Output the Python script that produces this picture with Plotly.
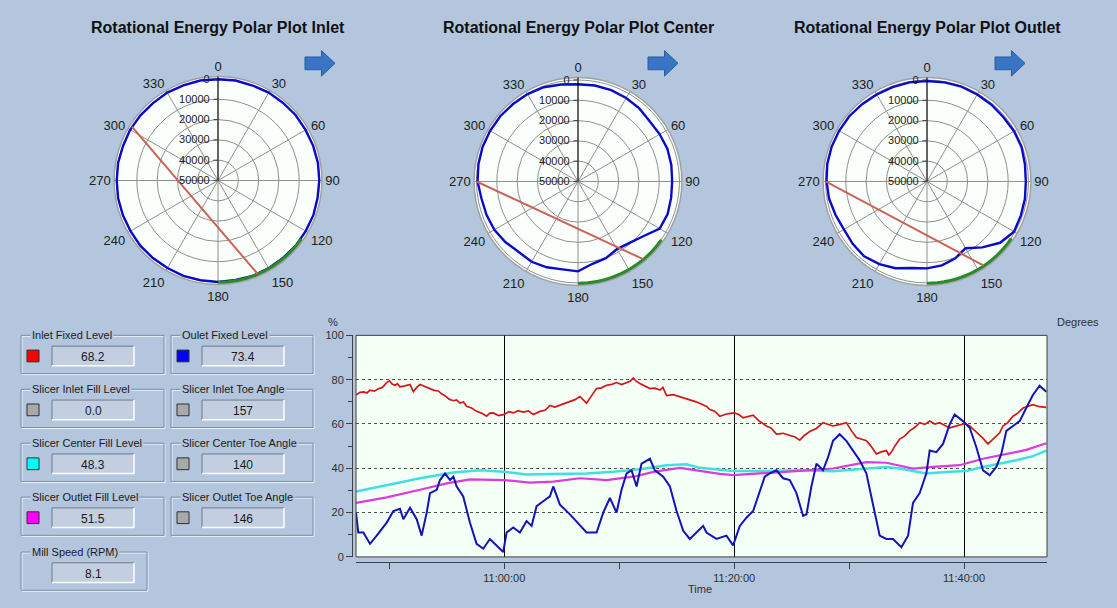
import numpy as np
import pandas as pd
import plotly.graph_objects as go

W, H = 1117, 608
BG = "#B3C6DD"
FONT = "Liberation Sans, Arial, sans-serif"

# ---------------- polar data ----------------
polar_titles = ["Rotational Energy Polar Plot Inlet",
                "Rotational Energy Polar Plot Center",
                "Rotational Energy Polar Plot Outlet"]
energy_theta = [0, 10, 20, 30, 40, 50, 60, 70, 80, 90, 100, 110, 120, 130, 140, 150, 160, 170, 180,
                190, 200, 210, 220, 230, 240, 250, 260, 270, 280, 290, 300, 310, 320, 330, 340, 350, 360]
inlet_energy = [100, 0, 200, 0, 100, 0, 200, 100, 0, 100, 200, 0, 100, 0, 200, 100, 0, 200, 0,
                100, 0, 200, 100, 0, 200, 100, 0, 100, 0, 200, 0, 100, 200, 0, 100, 0, 100]
center_energy = [2100, 2000, 2100, 2500, 3000, 3900, 3500, 3100, 3300, 3600, 3400, 3000, 3500, 8000,
                 10500, 11500, 9800, 8800, 5700, 6000, 5000, 4300, 4600, 3400, 2400, 2000, 1700, 500,
                 200, 0, 0, 0, 200, 300, 600, 1500, 2100]
outlet_energy = [500, 400, 300, 500, 600, 800, 500, 400, 1000, 1300, 1000, 800, 500, 3000, 7600, 12000,
                 9600, 8000, 7200, 6700, 4500, 3000, 1800, 2200, 2700, 2000, 1000, 500, 100, 0, 0, 0,
                 300, 500, 500, 400, 500]
polar_energy = [inlet_energy, center_energy, outlet_energy]
toe_angles = [157, 140, 146]
shoulder_angles = [302, 270, 270]
fill_arc_start = [125, 125, 124]
fill_arc_end = [180, 180, 180]
radial_ticks = [0, 10000, 20000, 30000, 40000, 50000]
angle_ticks = [0, 30, 60, 90, 120, 150, 180, 210, 240, 270, 300, 330]

# ---------------- trend data (minutes from 11:00:00) ----------------
red_t = [-12.9, -12.55, -12.2, -11.95, -11.68, -11.3, -11.0, -10.6, -10.23, -10.0, -9.75, -9.5, -9.3, -9.07,
         -8.65, -8.2, -7.91, -7.6, -7.33, -6.9, -6.46, -6.1, -5.74, -5.45, -5.16, -4.8, -4.43, -4.15, -3.86,
         -3.55, -3.28, -2.85, -2.41, -1.95, -1.54, -1.25, -0.96, -0.5, 0, 0.4, 0.78, 1.2, 1.65, 2.1, 2.52,
         2.8, 3.1, 3.55, 3.97, 4.4, 4.84, 5.3, 5.71, 6.15, 6.58, 6.85, 7.16, 7.6, 8.03, 8.45, 8.9, 9.35,
         9.77, 10.2, 10.64, 10.95, 11.22, 11.5, 11.8, 12.25, 12.67, 13.1, 13.54, 13.8, 14.12, 14.7, 15.28,
         15.7, 16.14, 16.7, 17.3, 17.6, 17.88, 18.3, 18.75, 19.4, 20, 20.4, 20.78, 21.2, 21.65, 22.2, 22.81,
         23.2, 23.68, 24.25, 24.84, 25.3, 25.71, 26.1, 26.58, 27.15, 27.73, 28.15, 28.6, 29.2, 29.76, 30.2,
         30.63, 31.05, 31.5, 31.9, 32.37, 32.8, 33.24, 33.45, 33.68, 34.0, 34.4, 34.85, 35.27, 35.7, 36.14,
         36.6, 37.01, 37.45, 37.88, 38.3, 38.75, 39.2, 39.62, 40.05, 40.49, 40.9, 41.36, 41.7, 42.08, 42.45,
         42.81, 43.1, 43.39, 43.8, 44.26, 44.7, 45.13, 45.55, 45.99, 46.55, 47.16]
red_v = [73.1, 74.3, 74.5, 74.0, 75.3, 74.8, 75.8, 76.5, 78.7, 79.5, 78.0, 77.5, 78.2, 76.8,
         77.2, 77.8, 74.6, 76.6, 77.8, 76.9, 76, 75.2, 74.9, 73.6, 72.8, 71.2, 70.5, 70.9, 69.4,
         69.9, 68, 67.2, 65.7, 64.8, 63.5, 64.9, 65, 63.8, 64.3, 65.6, 65, 66.0, 65.4, 65.9, 64.3,
         65.0, 65.7, 66.2, 68.4, 67.6, 68.4, 69.3, 70.2, 71.0, 72.4, 71.2, 69.4, 72.8, 76, 76.3, 77.5, 77.9,
         78.7, 77.8, 78.7, 79.3, 80.8, 79.2, 78.3, 77.3, 76, 76.2, 75.3, 76.5, 72.8, 73.2, 72.4,
         71.6, 70.9, 70.0, 68.7, 67.9, 66.5, 65.8, 63.5, 64.6, 65, 64.3, 62.8, 63.5, 64, 61.2, 59.1,
         58.2, 55.4, 55.8, 54.7, 54.1, 52.7, 54.8, 56.6, 58.0, 60.6, 59.9, 59.1, 59.8, 60.6, 57.0,
         53.9, 53.2, 52.4, 50.0, 46.5, 47.4, 48, 46.0, 47.3, 50.2, 53.2, 54.6, 56.9, 58.4, 60.6,
         59.8, 61.3, 60.0, 60.6, 59.4, 58.3, 58.9, 59.5, 60.2, 59.1, 57.2, 54.7, 53.3, 51, 52.8,
         54.7, 56.0, 59.1, 60.6, 63.5, 65.0, 67.2, 68.1, 68.7, 67.8, 67.5]

blue_t = [-12.9, -12.7, -12.26, -11.68, -11.1, -10.23, -9.65, -9.07, -8.78, -8.2, -7.62, -7.19, -6.75,
          -6.46, -5.88, -5.59, -5.16, -4.72, -4.43, -4.14, -3.57, -2.99, -2.41, -1.83, -1.25, -0.67, -0.09,
          0.2, 0.78, 1.36, 1.94, 2.38, 2.81, 3.39, 3.97, 4.26, 4.84, 5.71, 6.58, 7.16, 8.03, 8.61, 9.19,
          9.77, 10.2, 10.64, 11.07, 11.51, 11.94, 12.67, 13.1, 13.83, 14.41, 14.99, 15.57, 16.14, 16.72,
          17.3, 17.59, 18.46, 19.33, 19.91, 20.49, 21.07, 21.65, 22.08, 22.66, 23.1, 23.68, 24.26, 24.84,
          25.42, 26.0, 26.29, 26.72, 27.16, 27.73, 28.17, 28.6, 29.18, 29.76, 30.34, 30.92, 31.5, 32.08,
          32.66, 33.24, 33.82, 34.55, 35.13, 35.56, 36.14, 36.72, 37.01, 37.59, 38.17, 38.75, 39.18,
          39.91, 40.49, 41.07, 41.65, 42.23, 42.81, 43.24, 43.68, 44.26, 44.84, 45.41, 45.99, 46.57, 47.16]
blue_v = [20, 11, 11, 5.9, 9.6, 15.5, 20.7, 21.7, 17, 22.2, 17, 9.6, 20,
          28.8, 30.3, 34.7, 37.7, 34.7, 36.2, 31.8, 27.3, 15.5, 5.9, 3.7, 8.1, 5.2, 2.2,
          11, 13.3, 11, 16.2, 14, 22.9, 25.1, 27.3, 31.8, 23.6, 19.2, 14, 11, 11, 20, 26.6,
          20, 30.3, 37.7, 39.1, 31.8, 42.1, 44.3, 39.1, 36.2, 31.8, 20.7, 11.8, 8.1, 11,
          14, 11, 8.1, 9.6, 5.2, 14, 17.7, 20.7, 27.3, 36.2, 37.7, 39.1, 35.5, 34.7,
          28.8, 18.5, 19.2, 31.8, 42.1, 39.1, 45, 52.4, 55.4, 52.4, 48, 43.6, 37.7, 22.9,
          9.6, 8.1, 8.1, 4.4, 9.6, 24.4, 28.8, 37.7, 48, 47.3, 51, 59.8, 64.3,
          61.3, 58.3, 49.5, 39.1, 36.9, 40.6, 46.5, 56.9, 59.1, 61.3, 67.2, 73.1, 77.3, 74.6]

cyan_t = [-12.9, -10.23, -7.33, -4.43, -2.12, 0, 1.94, 4.26, 7.16, 9.48, 11.8, 14.12, 15.86, 17.01,
          19.91, 22.81, 25.71, 28.6, 31.5, 33.24, 34.4, 36.72, 38.75, 40.2, 41.65, 43.1, 44.55, 45.99, 47.16]
cyan_v = [29.5, 32.5, 35.5, 38.1, 39.1, 38.4, 37.2, 37.4, 37.7, 38.4, 39.6, 41.4, 41.8, 40.2,
          38.8, 38.8, 39.1, 38.7, 39.9, 40.6, 39.9, 37.7, 38.4, 38.8, 40.6, 42.1, 43.6, 45.5, 48]

mag_t = [-12.9, -10.23, -7.33, -5.0, -2.99, 0, 2.23, 4.26, 6.58, 8.9, 11.51, 12.96, 15.28, 17.3, 18.75,
         19.91, 22.81, 25.71, 28.6, 31.5, 33.24, 35.56, 37.3, 39.62, 41.65, 43.68, 45.41, 47.16]
mag_v = [24.4, 26.9, 30.3, 33.2, 35, 34.7, 33.5, 34, 35.5, 34.7, 36.5, 38.4, 40.2, 38.5, 37.5,
         36.9, 37.7, 38.8, 39.9, 42.8, 42.5, 39.9, 40.6, 41.4, 44.3, 46.5, 48.3, 51.3]

trend_start = "2000-01-01 10:47:06"
trend_end = "2000-01-01 11:47:13"
left_ticks = [0, 20, 40, 60, 80, 100]
right_ticks = [80, 100, 120, 140, 160, 180]

# ---------------- panel data ----------------
panel_labels = ["Inlet Fixed Level", "Oulet Fixed Level",
                "Slicer Inlet Fill Level", "Slicer Inlet Toe Angle",
                "Slicer Center Fill Level", "Slicer Center Toe Angle",
                "Slicer Outlet Fill Level", "Slicer Outlet Toe Angle",
                "Mill Speed (RPM)"]
panel_values = ["68.2", "73.4", "0.0", "157", "48.3", "140", "51.5", "146", "8.1"]
panel_swatches = ["#FF0000", "#0000FF", "#A9A9A9", "#A9A9A9", "#00FFFF", "#A9A9A9", "#FF00FF", "#A9A9A9", None]


def px(x):
    return x / W


def py(y):
    return 1 - y / H


def tm(mins):
    base = pd.Timestamp("2000-01-01 11:00:00")
    return [base + pd.Timedelta(minutes=m) for m in mins]


def note(x, y, text, font, **kw):
    fig.add_annotation(x=px(x), y=py(y), xref="paper", yref="paper", text=text, showarrow=False,
                       xanchor=kw.pop("xanchor", "center"), yanchor="middle", font=font, **kw)


fig = go.Figure()

# ---------------- polar plots ----------------
centers = [(218, 178, 106), (578, 179, 106), (927, 179, 106)]
for i in range(3):
    cx, cy, R = centers[i]
    pid = "polar" if i == 0 else f"polar{i+1}"
    fig.add_trace(go.Scatterpolar(
        r=polar_energy[i], theta=energy_theta, mode="lines",
        line=dict(color="#0A0AC8", width=2.4), cliponaxis=False, subplot=pid, showlegend=False))
    arc = np.linspace(fill_arc_start[i], fill_arc_end[i], 30)
    fig.add_trace(go.Scatterpolar(
        r=[-600] * len(arc), theta=arc, mode="lines",
        line=dict(color="#2A8A2A", width=5), cliponaxis=False, subplot=pid, showlegend=False))
    fig.add_trace(go.Scatterpolar(
        r=[0, 0], theta=[shoulder_angles[i], toe_angles[i]], mode="lines",
        line=dict(color="#C8645A", width=2), cliponaxis=False, subplot=pid, showlegend=False))
    fig.update_layout(**{pid: dict(
        domain=dict(x=[px(cx - R), px(cx + R)], y=[py(cy + R), py(cy - R)]),
        bgcolor="#FBFFFB",
        radialaxis=dict(range=[50000, -1200], tickvals=radial_ticks, tickformat="d", angle=90, tickangle=90,
                        side="counterclockwise", showline=True, linecolor="black", linewidth=1,
                        gridcolor="#8F8F8F", gridwidth=1, ticks="outside", ticklen=4,
                        tickcolor="#404040", tickfont=dict(size=11, color="#202020", family=FONT)),
        angularaxis=dict(rotation=90, direction="clockwise", tickmode="array", tickvals=angle_ticks,
                         ticktext=[str(a) for a in angle_ticks],
                         showline=True, linecolor="#A0A0A0", linewidth=1.5, gridcolor="#8F8F8F",
                         ticks="", tickfont=dict(size=13, color="#202020", family=FONT)),
    )})
    note(cx, 22, f"<b>{polar_titles[i]}</b>", dict(size=16, color="#111111", family=FONT))

# arrows
arrow_off = [0, 343, 690]
arrow_pts = [(305, 52), (321.5, 52), (321.5, 45.5), (335, 58.5), (321.5, 71.5), (321.5, 65), (305, 65)]
for off in arrow_off:
    path = "M " + " L ".join(f"{px(x + off):.5f} {py(y):.5f}" for x, y in arrow_pts) + " Z"
    fig.add_shape(type="path", path=path, xref="paper", yref="paper",
                  fillcolor="#3A74C4", line=dict(color="#2C5C9C", width=1))

# ---------------- trend ----------------
fig.add_trace(go.Scatter(x=tm(cyan_t), y=cyan_v, mode="lines", line=dict(color="#3EE0E0", width=2.5),
                         xaxis="x", yaxis="y", showlegend=False))
fig.add_trace(go.Scatter(x=tm(mag_t), y=mag_v, mode="lines", line=dict(color="#DD3ADD", width=2.2),
                         xaxis="x", yaxis="y", showlegend=False))
fig.add_trace(go.Scatter(x=tm(red_t), y=red_v, mode="lines", line=dict(color="#D01818", width=1.7),
                         xaxis="x", yaxis="y", showlegend=False))
fig.add_trace(go.Scatter(x=tm(blue_t), y=blue_v, mode="lines", line=dict(color="#1414B4", width=2),
                         xaxis="x", yaxis="y", showlegend=False))

x0p, x1p, y0p, y1p = 356, 1047, 562, 336
axfont = dict(size=11, color="#303030", family=FONT)
fig.update_layout(
    xaxis=dict(domain=[px(x0p), px(x1p)], anchor="free", position=py(567),
               range=[trend_start, trend_end], type="date",
               tick0="2000-01-01 11:00:00", dtick=20 * 60 * 1000, tickformat="%H:%M:%S",
               showgrid=True, gridcolor="black", gridwidth=1, zeroline=False,
               showline=True, linecolor="#404040", ticks="outside", ticklen=6, tickcolor="#404040",
               minor=dict(dtick=10 * 60 * 1000, ticks="outside", ticklen=6, tickcolor="#404040", showgrid=False),
               tickfont=axfont),
    yaxis=dict(domain=[py(y0p), py(y1p)], anchor="free", position=px(352), side="left",
               range=[0, 100], tickvals=left_ticks, showgrid=True, gridcolor="#505050", griddash="dot",
               gridwidth=1, zeroline=False, showline=True, linecolor="#404040",
               ticks="outside", ticklen=6, tickcolor="#404040",
               minor=dict(dtick=10, ticks="outside", ticklen=4, tickcolor="#404040", showgrid=False),
               tickfont=axfont),
    yaxis2=dict(overlaying="y", anchor="free", position=px(1052), side="right",
                range=[180, 80], tickvals=right_ticks, showgrid=False, zeroline=False,
                showline=True, linecolor="#404040", ticks="outside", ticklen=6, tickcolor="#404040",
                minor=dict(dtick=10, ticks="outside", ticklen=4, tickcolor="#404040"),
                tickfont=axfont),
    plot_bgcolor="#F4FFF6",
)
fig.add_shape(type="rect", xref="paper", yref="paper", x0=px(x0p), x1=px(x1p), y0=py(y0p), y1=py(y1p),
              line=dict(color="#404040", width=1))
note(333, 322, "%", axfont)
note(1078, 322, "Degrees", axfont)
note(700, 595, "Time", axfont)

# ---------------- panels ----------------
col_x = [21, 171]
row_y = [336, 391, 446, 501, 557]
for i, lab in enumerate(panel_labels):
    cx = col_x[i % 2]
    ry = row_y[i // 2]
    w = 143 if i % 2 == 0 else 142
    if panel_swatches[i] is None:
        w = 126
    # etched group border
    fig.add_shape(type="rect", xref="paper", yref="paper", x0=px(cx + 1), x1=px(cx + w + 1),
                  y0=py(ry + 40), y1=py(ry + 1), line=dict(color="#EEF3FA", width=1))
    fig.add_shape(type="rect", xref="paper", yref="paper", x0=px(cx), x1=px(cx + w),
                  y0=py(ry + 39), y1=py(ry), line=dict(color="#7F8DA3", width=1))
    note(cx + 9, ry, lab, dict(size=11, color="#1A1A1A", family=FONT), xanchor="left",
         bgcolor=BG, borderpad=1)
    if panel_swatches[i] is not None:
        fig.add_shape(type="rect", xref="paper", yref="paper", x0=px(cx + 6), x1=px(cx + 18),
                      y0=py(ry + 27), y1=py(ry + 15), fillcolor=panel_swatches[i],
                      line=dict(color="#303030", width=1))
    vx0, vx1, vy0, vy1 = cx + 31, cx + 113, ry + 11, ry + 31
    fig.add_shape(type="rect", xref="paper", yref="paper", x0=px(vx0), x1=px(vx1),
                  y0=py(vy1), y1=py(vy0), fillcolor="#C3CFE0", line=dict(width=0))
    fig.add_shape(type="path", xref="paper", yref="paper",
                  path=f"M {px(vx0)} {py(vy1)} L {px(vx0)} {py(vy0)} L {px(vx1)} {py(vy0)}",
                  line=dict(color="#6E7A8C", width=1))
    fig.add_shape(type="path", xref="paper", yref="paper",
                  path=f"M {px(vx0)} {py(vy1)} L {px(vx1)} {py(vy1)} L {px(vx1)} {py(vy0)}",
                  line=dict(color="#FFFFFF", width=1.5))
    note((vx0 + vx1) / 2, (vy0 + vy1) / 2 + 1, panel_values[i], dict(size=12, color="#1A1A1A", family=FONT))

fig.update_layout(width=W, height=H, autosize=False, margin=dict(l=0, r=0, t=0, b=0),
                  paper_bgcolor=BG, showlegend=False, font=dict(family=FONT))
fig.write_html("out.html", config={"displayModeBar": False},
               post_script="document.body.style.margin='0';document.body.style.background='" + BG + "';")
